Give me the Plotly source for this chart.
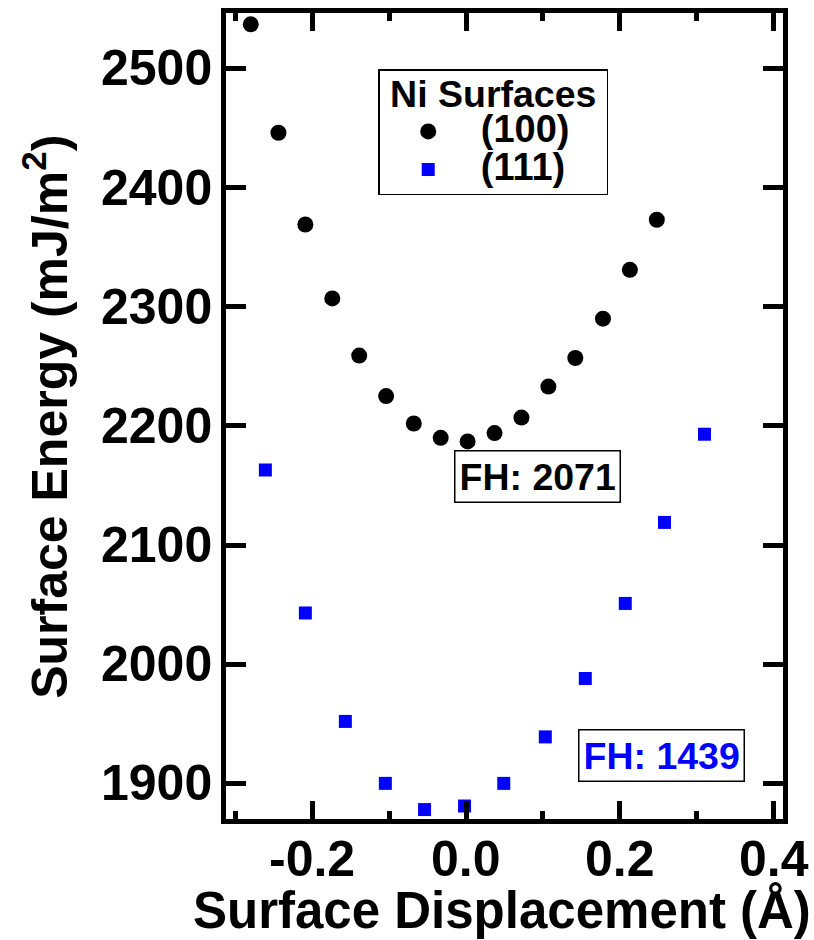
import plotly.graph_objects as go

# Ni (100) surface: energy vs. surface displacement
disp_100 = [-0.280, -0.244, -0.209, -0.174, -0.139, -0.104, -0.068, -0.033,
            0.002, 0.037, 0.072, 0.107, 0.142, 0.178, 0.213, 0.248]
energy_100 = [2537, 2446, 2369, 2307, 2259, 2225, 2202, 2190,
              2187, 2194, 2207, 2233, 2257, 2290, 2331, 2373]

# Ni (111) surface
disp_111 = [-0.261, -0.209, -0.157, -0.105, -0.054, -0.002,
            0.049, 0.103, 0.155, 0.207, 0.258, 0.310]
energy_111 = [2163, 2043, 1952, 1900, 1878, 1881,
              1900, 1939, 1988, 2051, 2119, 2193]

fh_100 = 2071
fh_111 = 1439

x_ticks = [-0.2, 0.0, 0.2, 0.4]
x_tick_labels = ["-0.2", "0.0", "0.2", "0.4"]
y_ticks = [1900, 2000, 2100, 2200, 2300, 2400, 2500]
y_tick_labels = [str(v) for v in y_ticks]

FONT = "Liberation Sans, Arial, Helvetica, sans-serif"

# plot area in pixels (left, right, top, bottom)
L, R, T, B = 225.5, 783.5, 12.5, 819.5
W, H = 814, 940


def px(xp):
    return (xp - L) / (R - L)


def py(yp):
    return (B - yp) / (B - T)


def big(text, size):
    return f'<span style="font-size:{size}px">{text}</span>'


fig = go.Figure()
fig.add_trace(go.Scatter(
    x=disp_100, y=energy_100, mode="markers",
    name=big("(100)&nbsp;&nbsp;&nbsp;", 38),
    marker=dict(symbol="circle", size=16, color="black", line=dict(width=0)),
))
fig.add_trace(go.Scatter(
    x=disp_111, y=energy_111, mode="markers",
    name=big("(111)&nbsp;&nbsp;&nbsp;", 38),
    marker=dict(symbol="square", size=13, color="#0000ff", line=dict(width=0)),
))

axis_common = dict(
    showline=True, linecolor="black", linewidth=5, mirror="ticks",
    ticks="inside", tickcolor="black", showgrid=False, zeroline=False,
    showticklabels=False, automargin=False,
)

fig.update_xaxes(
    range=[-0.3122, 0.4121], tickvals=x_ticks,
    ticklen=18, tickwidth=5,
    minor=dict(ticks="inside", dtick=0.1, tick0=0, ticklen=8, tickwidth=5,
               tickcolor="black", showgrid=False),
    **axis_common,
)
fig.update_yaxes(
    range=[1870.1, 2546.5], tickvals=y_ticks,
    ticklen=20, tickwidth=5,
    **axis_common,
)

tick_font = dict(family=FONT, size=50, color="black", weight="bold")

# tick labels, placed on the axis scales
for v, lab in zip(x_ticks, x_tick_labels):
    fig.add_annotation(
        text=lab, xref="x", yref="paper", x=v, y=py(860),
        xanchor="center", yanchor="middle", showarrow=False, font=tick_font,
    )
for v, lab in zip(y_ticks, y_tick_labels):
    fig.add_annotation(
        text=lab, xref="paper", yref="y", x=px(213), y=v,
        xanchor="right", yanchor="middle", showarrow=False, font=tick_font,
    )

fig.add_annotation(
    text="Surface Displacement (Å)", xref="paper", yref="paper",
    x=px(502), y=py(911), xanchor="center", yanchor="middle", showarrow=False,
    font=dict(family=FONT, size=51, color="black", weight="bold"),
)
fig.add_annotation(
    text="Surface Energy (mJ/m<sup>2</sup>)", xref="paper", yref="paper",
    x=px(45), y=py(417), xanchor="center", yanchor="middle", showarrow=False,
    textangle=-90,
    font=dict(family=FONT, size=50, color="black", weight="bold"),
)
fig.add_annotation(
    text=f"FH: {fh_100}", xref="paper", yref="paper",
    x=px(538), y=py(476.5), xanchor="center", yanchor="middle",
    showarrow=False, bordercolor="black", borderwidth=1.5, borderpad=4,
    bgcolor="white",
    font=dict(family=FONT, size=37.5, color="black", weight="bold"),
)
fig.add_annotation(
    text=f"FH: {fh_111}", xref="paper", yref="paper",
    x=px(662), y=py(755.5), xanchor="center", yanchor="middle",
    showarrow=False, bordercolor="black", borderwidth=1.5, borderpad=4,
    bgcolor="white",
    font=dict(family=FONT, size=37.5, color="#0000ff", weight="bold"),
)

fig.update_layout(
    width=W, height=H,
    margin=dict(l=L, r=W - R, t=T, b=H - B),
    paper_bgcolor="white", plot_bgcolor="white",
    showlegend=True,
    legend=dict(
        title=dict(text=big("Ni Surfaces", 37.5), side="top center",
                   font=dict(family=FONT, size=28, color="black", weight="bold")),
        font=dict(family=FONT, size=27, color="black", weight="bold"),
        x=px(378), y=py(69), xanchor="left", yanchor="top",
        bordercolor="black", borderwidth=1.5, bgcolor="white",
        itemwidth=95, indentation=-4, tracegroupgap=0,
    ),
)

fig.write_html("out.html")
